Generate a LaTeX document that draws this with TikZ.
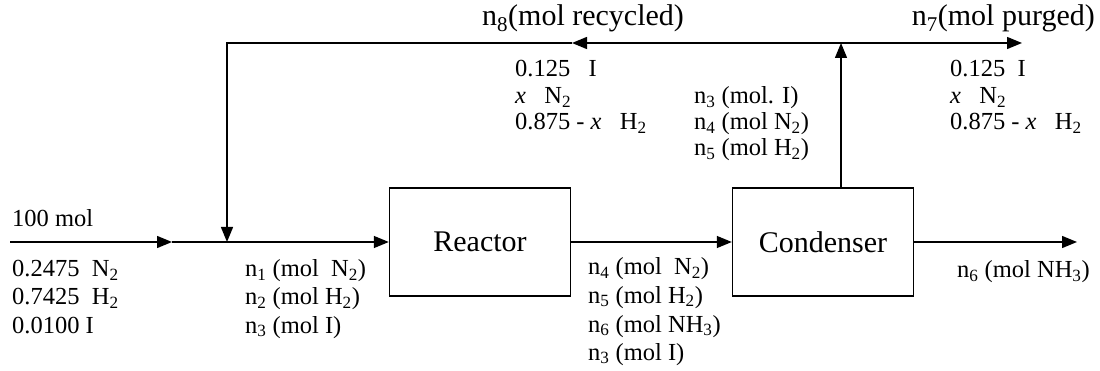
\documentclass[tikz,border=0pt]{standalone}
\usepackage{fontspec}
\setmainfont{Liberation Serif}
\usetikzlibrary{arrows.meta}
\newcommand{\sbs}[1]{\textsubscript{#1}}
\begin{document}
\begin{tikzpicture}[x=1pt,y=-1pt,
  flow/.style={line width=1.4pt,-{Triangle[length=15pt,width=12pt]}},
  unit/.style={draw,line width=1.4pt,minimum width=181pt,minimum height=108pt,inner sep=0pt,font=\fontsize{30}{36}\selectfont},
  lbl/.style={anchor=base west,inner sep=0pt,font=\fontsize{24.5}{29}\selectfont},
  ttl/.style={anchor=base west,inner sep=0pt,font=\fontsize{30}{36}\selectfont}]
\useasboundingbox (0,0) rectangle (1100,371);

\node[unit] (R) at (480,242) {Reactor};
\node[unit] (C) at (823,242) {Condenser};

\coordinate (feed) at (10,242);
\coordinate (fa) at (172,242);
\coordinate (mix) at (227,242);
\coordinate (prod) at (1077,242);
\coordinate (split) at (841,43);
\coordinate (rtop) at (227,43);
\coordinate (ra) at (572,43);
\coordinate (purge) at (1022,43);

\draw[flow] (feed) -- (fa);
\draw[flow] (fa) -- (R.west);
\draw[flow] (R.east) -- (C.west);
\draw[flow] (C.east) -- (prod);
\draw[flow] (C.north -| split) -- (split);
\draw[flow] (split) -- (ra);
\draw[flow] (ra) -- (rtop) -- (mix);
\draw[flow] (split) -- (purge);

% titles
\node[ttl] (t8) at (482,26) {n\sbs{8}(mol recycled)};
\node[ttl,anchor=base east] (t7) at (1095,26) {n\sbs{7}(mol purged)};

% feed
\node[lbl] (f0) at (12,227) {100 mol};
\node[lbl] (f1) at (12,277) {0.2475\ \ N\sbs{2}};
\node[lbl] (f2) at (12,305) {0.7425\ \ H\sbs{2}};
\node[lbl] (f3) at (12,333) {0.0100 I};

% mixed feed
\node[lbl] (m1) at (245,277) {n\sbs{1} (mol\ \ N\sbs{2})};
\node[lbl] (m2) at (245,305) {n\sbs{2} (mol H\sbs{2})};
\node[lbl] (m3) at (245,333) {n\sbs{3} (mol I)};

% reactor outlet
\node[lbl] (o1) at (588,275) {n\sbs{4} (mol\ \ N\sbs{2})};
\node[lbl] (o2) at (588,303) {n\sbs{5} (mol H\sbs{2})};
\node[lbl] (o3) at (588,332) {n\sbs{6} (mol NH\sbs{3})};
\node[lbl] (o4) at (588,360) {n\sbs{3} (mol I)};

% product
\node[lbl] (p1) at (957,278) {n\sbs{6} (mol NH\sbs{3})};

% condenser vapour
\node[lbl] (v1) at (694,104) {n\sbs{3} (mol. I)};
\node[lbl] (v2) at (694,130) {n\sbs{4} (mol N\sbs{2})};
\node[lbl] (v3) at (694,156) {n\sbs{5} (mol H\sbs{2})};

% recycle composition
\node[lbl] (r1) at (515,77) {0.125\ \ \ I};
\node[lbl] (r2) at (515,104) {\textit{x}\ \ \ N\sbs{2}};
\node[lbl] (r3) at (515,130) {0.875 - \textit{x}\ \ \ H\sbs{2}};

% purge composition
\node[lbl] (q1) at (950,77) {0.125\ \ I};
\node[lbl] (q2) at (950,104) {\textit{x}\ \ \ N\sbs{2}};
\node[lbl] (q3) at (950,130) {0.875 - \textit{x}\ \ \ H\sbs{2}};
\end{tikzpicture}
\end{document}
